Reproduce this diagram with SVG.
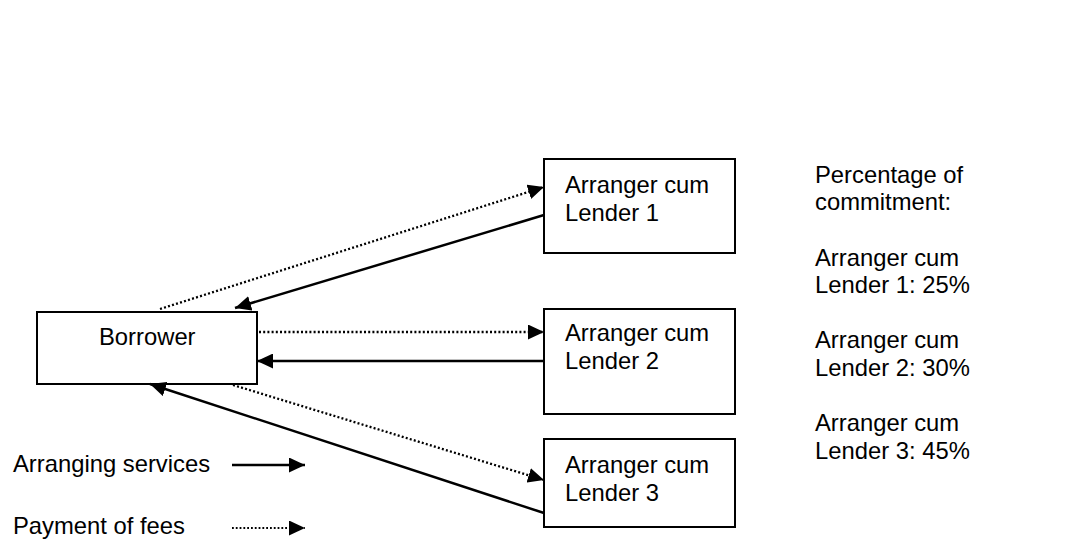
<svg xmlns="http://www.w3.org/2000/svg" width="1084" height="544" viewBox="0 0 1084 544">
  <style>
    .box { fill: #ffffff; stroke: #000000; stroke-width: 2; }
    .lbl { font-family: "Liberation Sans", Arial, sans-serif; font-size: 23.8px; fill: #000000; }
    .solid { stroke: #000000; stroke-width: 2.5; fill: none; marker-end: url(#head); }
    .dotted { stroke: #000000; stroke-width: 2.3; stroke-dasharray: 2 2.2; fill: none; marker-end: url(#head); }
    .dotted-key { stroke: #000000; stroke-width: 1.8; stroke-dasharray: 1.8 2; fill: none; marker-end: url(#head); }
  </style>
  <defs>
    <marker id="head" viewBox="0 0 16 15" refX="16" refY="7.5" markerWidth="16" markerHeight="15" markerUnits="userSpaceOnUse" orient="auto">
      <path d="M0,0 L16,7.5 L0,15 Z" fill="#000000"/>
    </marker>
  </defs>
  <rect width="1084" height="544" fill="#ffffff"/>

  <g id="borrower">
    <rect class="box" x="37" y="312" width="220" height="72"/>
    <text class="lbl" x="99" y="345">Borrower</text>
  </g>

  <g id="lender1">
    <rect class="box" x="544" y="159" width="191" height="94"/>
    <text class="lbl" x="565" y="193">Arranger cum</text>
    <text class="lbl" x="565" y="220.5">Lender 1</text>
  </g>

  <g id="lender2">
    <rect class="box" x="544" y="309" width="191" height="105"/>
    <text class="lbl" x="565" y="341">Arranger cum</text>
    <text class="lbl" x="565" y="368.5">Lender 2</text>
  </g>

  <g id="lender3">
    <rect class="box" x="544" y="439" width="191" height="88"/>
    <text class="lbl" x="565" y="473">Arranger cum</text>
    <text class="lbl" x="565" y="500.5">Lender 3</text>
  </g>

  <g id="connectors">
    <!-- fees paid by the borrower -->
    <line class="dotted" x1="160" y1="309" x2="544" y2="187"/>
    <line class="dotted" x1="259" y1="332" x2="544" y2="332"/>
    <line class="dotted" x1="233" y1="385" x2="544" y2="480"/>
    <!-- arranging services to the borrower -->
    <line class="solid" x1="544" y1="215" x2="235" y2="308"/>
    <line class="solid" x1="544" y1="361" x2="257" y2="361"/>
    <line class="solid" x1="544" y1="513" x2="150" y2="384"/>
  </g>

  <g id="commitment">
    <text class="lbl" x="815">
      <tspan x="815" y="182.5">Percentage of</tspan>
      <tspan x="815" y="210">commitment:</tspan>
      <tspan x="815" y="265.5">Arranger cum</tspan>
      <tspan x="815" y="293">Lender 1: 25%</tspan>
      <tspan x="815" y="348">Arranger cum</tspan>
      <tspan x="815" y="376">Lender 2: 30%</tspan>
      <tspan x="815" y="431">Arranger cum</tspan>
      <tspan x="815" y="459">Lender 3: 45%</tspan>
    </text>
  </g>

  <g id="legend">
    <text class="lbl" x="13" y="472">Arranging services</text>
    <line class="solid" x1="232" y1="465" x2="305" y2="465"/>
    <text class="lbl" x="13" y="534">Payment of fees</text>
    <line class="dotted-key" x1="232" y1="528" x2="305" y2="528"/>
  </g>
</svg>
